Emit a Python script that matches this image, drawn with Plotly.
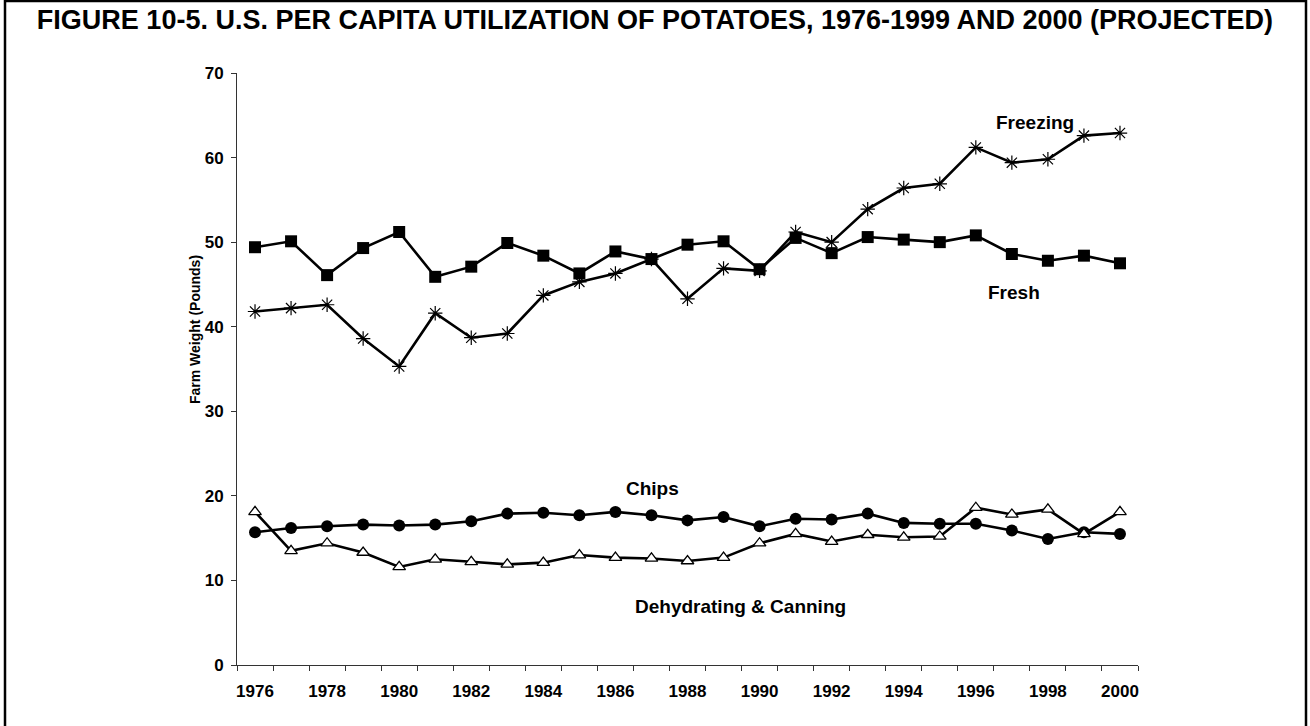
import plotly.graph_objects as go

years = list(range(1976, 2001))

fresh = [49.4, 50.1, 46.1, 49.3, 51.2, 45.9, 47.1, 49.9, 48.4, 46.3, 48.9, 48.0,
         49.7, 50.1, 46.8, 50.5, 48.7, 50.6, 50.3, 50.0, 50.8, 48.6, 47.8, 48.4, 47.5]
freezing = [41.8, 42.2, 42.6, 38.6, 35.3, 41.6, 38.7, 39.2, 43.7, 45.3, 46.3, 48.0,
            43.3, 46.9, 46.6, 51.2, 50.0, 53.9, 56.4, 56.9, 61.2, 59.4, 59.8, 62.6, 62.9]
chips = [15.7, 16.2, 16.4, 16.6, 16.5, 16.6, 17.0, 17.9, 18.0, 17.7, 18.1, 17.7,
         17.1, 17.5, 16.4, 17.3, 17.2, 17.9, 16.8, 16.7, 16.7, 15.9, 14.9, 15.7, 15.5]
dehydrating = [18.1, 13.5, 14.4, 13.3, 11.6, 12.5, 12.2, 11.9, 12.1, 13.0, 12.7, 12.6,
               12.3, 12.7, 14.4, 15.5, 14.6, 15.4, 15.1, 15.2, 18.6, 17.8, 18.4, 15.5, 18.1]

FONT = "Liberation Sans, Arial, sans-serif"

fig = go.Figure()

line = dict(color="black", width=2.6)

fig.add_trace(go.Scatter(
    x=years, y=fresh, mode="lines+markers", name="Fresh", line=line,
    marker=dict(symbol="square", size=12, color="black")
))
fig.add_trace(go.Scatter(
    x=years, y=freezing, mode="lines+markers", name="Freezing", line=line,
    marker=dict(symbol="asterisk-open", size=12, color="black", line=dict(width=1.2, color="black"))
))
fig.add_trace(go.Scatter(
    x=years, y=chips, mode="lines+markers", name="Chips", line=line,
    marker=dict(symbol="circle", size=12, color="black")
))
fig.add_trace(go.Scatter(
    x=years, y=dehydrating, mode="lines+markers", name="Dehydrating & Canning", line=line,
    marker=dict(symbol="triangle-up", size=11, color="white", line=dict(width=1.3, color="black"))
))

# series labels
labels = [("Freezing", 1997.65, 64.1), ("Fresh", 1997.06, 44.1),
          ("Chips", 1987.03, 20.9), ("Dehydrating & Canning", 1989.47, 6.9)]
for text, lx, ly in labels:
    fig.add_annotation(x=lx, y=ly, text=text, showarrow=False,
                       font=dict(family=FONT, size=19, color="black", weight="bold"))

fig.add_annotation(xref="paper", yref="paper", x=(185 - 237) / 901, y=(665 - 330) / 592,
                   text="Farm Weight (Pounds)", textangle=-90, showarrow=False,
                   font=dict(family=FONT, size=14, color="black", weight="bold"))

# frame round the whole figure
fig.add_shape(type="rect", xref="paper", yref="paper",
              x0=(5 - 237) / 901, x1=(1306 - 237) / 901,
              y0=(665 - 740) / 592, y1=(665 - 1) / 592,
              line=dict(color="black", width=2.5), fillcolor="rgba(0,0,0,0)")

tickfont = dict(family=FONT, size=17, color="black", weight="bold")

fig.update_xaxes(
    range=[1975.5, 2000.5], tickvals=list(range(1976, 2001, 2)), ticks="",
    showline=True, linecolor="#333", linewidth=1, showgrid=False, zeroline=False,
    tickfont=tickfont, ticklabelstandoff=11,
    minor=dict(tickvals=[y - 0.5 for y in range(1976, 2002)], ticks="outside",
               ticklen=5, tickcolor="#333", showgrid=False),
    tickformat="d"
)
fig.update_yaxes(
    range=[0, 70], dtick=10, ticks="outside", ticklen=5, tickcolor="#333",
    showline=True, linecolor="#333", linewidth=1, showgrid=False, zeroline=False,
    tickfont=tickfont, ticklabelstandoff=4
)

fig.update_layout(
    title=dict(text="FIGURE 10-5. U.S. PER CAPITA UTILIZATION OF POTATOES, 1976-1999 AND 2000 (PROJECTED)",
               x=0.5, xref="container", y=1 - 20 / 726, yanchor="middle",
               font=dict(family=FONT, size=27, color="black", weight="bold")),
    width=1310, height=726,
    margin=dict(l=237, r=172, t=73, b=61),
    plot_bgcolor="white", paper_bgcolor="white",
    showlegend=False,
)

fig.write_html("out.html", config={"displayModeBar": False},
               post_script="document.body.style.margin='0';")
